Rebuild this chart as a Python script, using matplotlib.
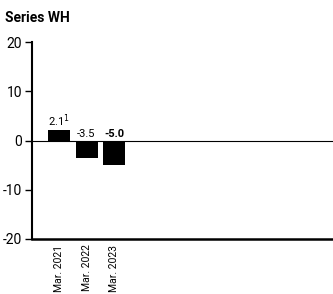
import matplotlib
matplotlib.use('Agg')
import matplotlib.pyplot as plt

plt.rcParams['font.family'] = ['Roboto', 'DejaVu Sans']

categories = ['Mar. 2021', 'Mar. 2022', 'Mar. 2023']
values = [2.1, -3.5, -5.0]
labels = ['2.1$^{1}$', '-3.5', '-5.0']
label_bold = [False, False, True]
yticks = [-20, -10, 0, 10, 20]

fig = plt.figure(figsize=(3.33, 2.94), dpi=100)
ax = fig.add_axes([32 / 333, 1 - 239 / 294, 1 - 32 / 333, 197 / 294])

x = list(range(len(categories)))
ax.bar(x, values, width=0.8, color='black')
ax.axhline(0, color='black', lw=0.8)

for xi, v, lab, b in zip(x, values, labels, label_bold):
    y = max(v, 0) + 0.3
    ax.text(xi, y, lab, ha='center', va='bottom', fontsize=8,
            fontweight='bold' if b else 'normal')

ax.set_xlim(-0.98, 9.95)
ax.set_ylim(-20, 20)
ax.set_yticks(yticks)
ax.set_yticklabels([str(t) for t in yticks], fontsize=10)
ax.set_xticks(x)
ax.set_xticklabels(categories, rotation=90, fontsize=7.5)
ax.tick_params(axis='x', length=0, pad=4)
ax.tick_params(axis='y', length=5, width=1, pad=2)

for s in ['top', 'right']:
    ax.spines[s].set_visible(False)
ax.spines['left'].set_linewidth(1.5)
ax.spines['bottom'].set_linewidth(1.8)

fig.text(5 / 333, 1 - 18 / 294, 'Series WH', fontsize=10, fontweight='bold',
         va='center', ha='left')

fig.savefig('out.png', dpi=100)
